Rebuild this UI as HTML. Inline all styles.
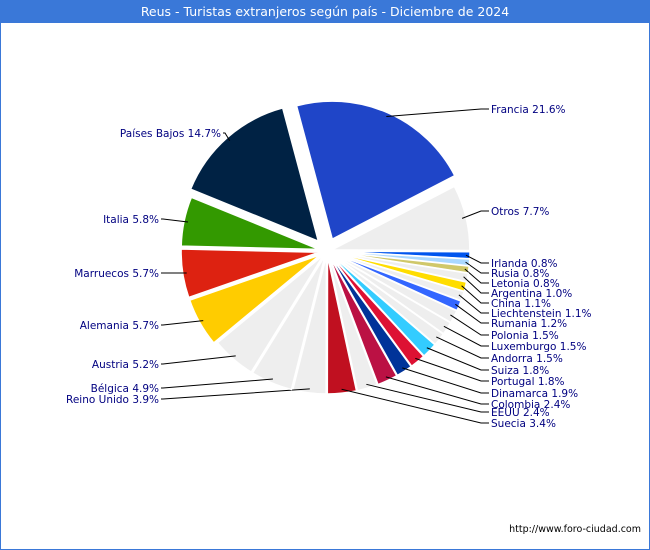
<!DOCTYPE html>
<html><head><meta charset="utf-8"><style>
body{margin:0;background:#fff}
#wrap{position:relative;width:648px;height:548px;border:1px solid #3a78d8;font-family:"DejaVu Sans","Liberation Sans",sans-serif}
#title{height:22px;background:#3a78d8;color:#fff;font-size:12.5px;text-align:center;line-height:22px}
svg{position:absolute;left:0;top:0}
</style></head><body>
<div id="wrap">
<div id="title">Reus - Turistas extranjeros según país - Diciembre de 2024</div>
<svg id="pie" width="648" height="548"></svg>
</div>
<script>
const categories=["Francia","Otros","Irlanda","Rusia","Letonia","Argentina","China","Liechtenstein","Rumania","Polonia","Luxemburgo","Andorra","Suiza","Portugal","Dinamarca","Colombia","EEUU","Suecia","Reino Unido","Bélgica","Austria","Alemania","Marruecos","Italia","Países Bajos"];
const values=[21.6,7.7,0.8,0.8,0.8,1.0,1.1,1.1,1.2,1.5,1.5,1.5,1.8,1.8,1.9,2.4,2.4,3.4,3.9,4.9,5.2,5.7,5.7,5.8,14.7];
const colors=["#1f45c8","#eeeeee","#0055ee","#aad8ff","#d0c86a","#eeeeee","#ffdd00","#eeeeee","#3366ff","#eeeeee","#eeeeee","#eeeeee","#33ccff","#dd1133","#003399","#bb1144","#eeeeee","#c01020","#eeeeee","#eeeeee","#eeeeee","#ffcc00","#dd2211","#339900","#002244"];
const labelY=[108,210,262,272,282,292,302,312,322,334,345,357,369,380,392,403,411,422,398,387,363,324,272,218,132];
const svg=document.getElementById('pie');
const NS='http://www.w3.org/2000/svg';
const cx=326,cy=250,r=138,start=-105;
const total=values.reduce((a,b)=>a+b,0);
let a=start;
function pt(deg,rad,ox,oy){const t=deg*Math.PI/180;return [ox+rad*Math.cos(t),oy+rad*Math.sin(t)];}
values.forEach((v,i)=>{
  const span=v/total*360,a0=a,a1=a+span,mid=a+span/2;a=a1;
  const off=(i==0||i==24)?13:(i>=21?8:5);
  const [ox,oy]=pt(mid,off,cx,cy);
  const p0=pt(a0,r,ox,oy),p1=pt(a1,r,ox,oy);
  const path=document.createElementNS(NS,'path');
  path.setAttribute('d',`M${ox},${oy}L${p0[0]},${p0[1]}A${r},${r} 0 ${span>180?1:0} 1 ${p1[0]},${p1[1]}Z`);
  path.setAttribute('fill',colors[i]);path.setAttribute('stroke','#fff');path.setAttribute('stroke-width','1.5');
  
  
  svg.appendChild(path);
  const right=Math.cos(mid*Math.PI/180)>0 && i<18;
  const e=pt(mid,r-4,ox,oy);
  const ly=labelY[i];
  const lx=right?490:(i==24?220:158);
  const line=document.createElementNS(NS,'polyline');
  const x1=right?480:lx+4,x2=right?488:lx+2;
  line.setAttribute('points',`${e[0]},${e[1]} ${x1},${ly} ${x2},${ly}`);
  line.setAttribute('fill','none');line.setAttribute('stroke','#000');line.setAttribute('stroke-width','1');
  
  
  svg.appendChild(line);
  const t=document.createElementNS(NS,'text');
  t.setAttribute('x',lx);t.setAttribute('y',ly+4);
  t.setAttribute('text-anchor',right?'start':'end');
  t.setAttribute('font-size','10.5');t.setAttribute('fill','#000080');
  t.textContent=categories[i]+' '+v.toFixed(1)+'%';
  
  
  svg.appendChild(t);
});
const f=document.createElementNS(NS,'text');
f.setAttribute('x',640);f.setAttribute('y',531);f.setAttribute('text-anchor','end');f.setAttribute('font-size','9.5');f.setAttribute('fill','#000');
f.textContent='http://www.foro-ciudad.com';


svg.appendChild(f);
</script>
</body></html>
